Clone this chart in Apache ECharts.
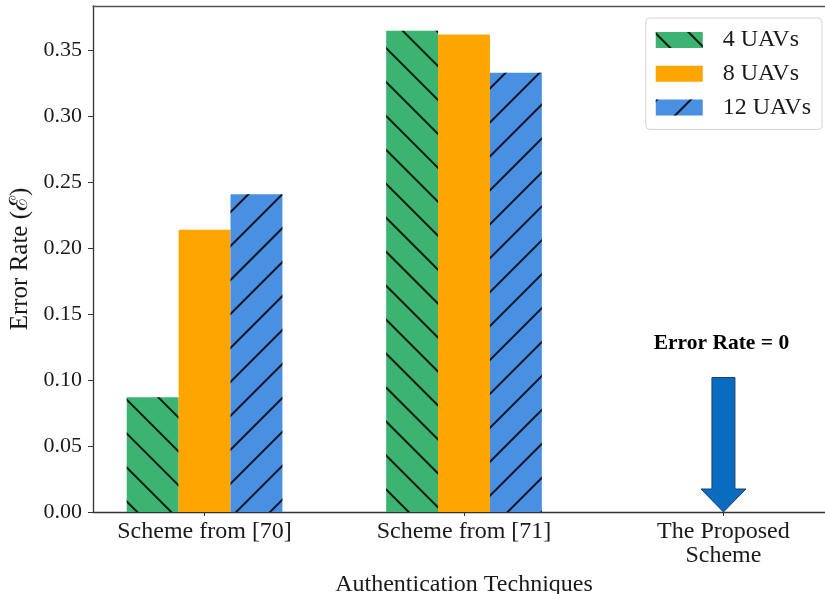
<!DOCTYPE html>
<html>
<head>
<meta charset="utf-8">
<script src="https://cdn.jsdelivr.net/npm/echarts@6/dist/echarts.min.js"></script>
<style>
  html, body { margin: 0; padding: 0; background: #fff; }
  #chart { width: 825px; height: 594px; }
</style>
</head>
<body>
<div id="chart"></div>
<script>
// Error rate of each authentication technique for different swarm sizes
const categories = ['Scheme from [70]', 'Scheme from [71]', 'The Proposed\nScheme'];
const categoryPos = [0, 1, 2];
const uav4 = [0.087, 0.365, 0];
const uav8 = [0.214, 0.362, 0];
const uav12 = [0.241, 0.333, 0];
const seriesNames = ['4 UAVs', '8 UAVs', '12 UAVs'];
const yTickValues = [0, 0.05, 0.10, 0.15, 0.20, 0.25, 0.30, 0.35];

// Annotation for the proposed scheme: arrow from arrowStart down to arrowEnd
const noteCategory = 2;
const arrowStart = 0.102;
const arrowEnd = 0;
const noteValue = 0.128;
const noteText = 'Error Rate = 0';

const FONT = '"Liberation Serif", "Times New Roman", serif';
const TEXT = '#1a1a1a';

function hatch(rotation) {
  return {
    symbol: 'rect',
    symbolSize: 1,
    color: 'rgba(0,0,0,0.85)',
    dashArrayX: [1, 0],
    dashArrayY: [1.4, 21.2],
    rotation: rotation
  };
}

function pairs(values) {
  return values.map((v, i) => [categoryPos[i], v]);
}

const chart = echarts.init(document.getElementById('chart'), null, { renderer: 'canvas' });

chart.setOption({
  backgroundColor: '#fff',
  animation: false,
  textStyle: { fontFamily: FONT, color: TEXT },
  grid: { left: 93, right: -10, top: 6, bottom: 82, containLabel: false, outerBoundsMode: 'none' },
  legend: {
    data: seriesNames,
    orient: 'vertical',
    right: 3,
    top: 18,
    icon: 'rect',
    itemWidth: 47,
    itemHeight: 16,
    itemGap: 9.7,
    padding: [10, 11, 10, 10],
    borderColor: '#d4d4d4',
    borderWidth: 1,
    borderRadius: 4,
    textStyle: { fontFamily: FONT, fontSize: 24, color: TEXT, padding: [0, 0, 0, 15] }
  },
  xAxis: [{
    type: 'value',
    min: -0.43,
    max: 2.43,
    name: 'Authentication Techniques',
    nameLocation: 'middle',
    nameGap: 53,
    nameTextStyle: { fontFamily: FONT, fontSize: 24, color: TEXT },
    axisLine: { show: true, onZero: false, lineStyle: { color: '#333', width: 1.3 } },
    axisTick: { show: true, customValues: categoryPos, length: 4, lineStyle: { color: '#333' } },
    axisLabel: {
      customValues: categoryPos,
      formatter: v => categories[Math.round(v)],
      fontFamily: FONT, fontSize: 24, color: TEXT, margin: 8, lineHeight: 24
    },
    splitLine: { show: false }
  }, {
    type: 'value',
    position: 'top',
    min: -0.43,
    max: 2.43,
    axisLine: { show: true, onZero: false, lineStyle: { color: '#555', width: 1.3 } },
    axisTick: { show: false },
    axisLabel: { show: false },
    splitLine: { show: false }
  }],
  yAxis: {
    type: 'value',
    min: 0,
    max: 0.3837,
    interval: 0.05,
    name: 'Error Rate (ℰ)',
    nameLocation: 'middle',
    nameGap: 60,
    nameRotate: 90,
    nameTextStyle: { fontFamily: FONT, fontSize: 25, color: TEXT },
    axisLine: { show: true, onZero: false, lineStyle: { color: '#333', width: 1.3 } },
    axisTick: { show: true, customValues: yTickValues, length: 5, lineStyle: { color: '#333' } },
    axisLabel: {
      customValues: yTickValues,
      formatter: v => v.toFixed(2),
      fontFamily: FONT, fontSize: 22, color: TEXT, margin: 11
    },
    splitLine: { show: false }
  },
  series: [
    {
      name: seriesNames[0], type: 'bar', data: pairs(uav4),
      barWidth: '20%', barGap: '0%',
      itemStyle: { color: '#3CB371', decal: hatch(Math.PI / 4) }
    },
    {
      name: seriesNames[1], type: 'bar', data: pairs(uav8),
      barWidth: '20%', barGap: '0%',
      itemStyle: { color: '#FFA500' }
    },
    {
      name: seriesNames[2], type: 'bar', data: pairs(uav12),
      barWidth: '20%', barGap: '0%',
      itemStyle: { color: '#4A90E2', decal: hatch(-Math.PI / 4) }
    },
    {
      type: 'custom',
      silent: true,
      data: [[noteCategory, arrowStart, arrowEnd, noteValue]],
      renderItem: (params, api) => {
        const x = api.value(0);
        const top = api.coord([x, api.value(1)]);
        const tip = api.coord([x, api.value(2)]);
        const label = api.coord([x, api.value(3)]);
        const shaftHalf = 11.5, headHalf = 22.5, headLen = 23;
        const neckY = tip[1] - headLen;
        return {
          type: 'group',
          children: [
            {
              type: 'polygon',
              shape: {
                points: [
                  [top[0] - shaftHalf, top[1]],
                  [top[0] + shaftHalf, top[1]],
                  [top[0] + shaftHalf, neckY],
                  [top[0] + headHalf, neckY],
                  [tip[0], tip[1]],
                  [top[0] - headHalf, neckY],
                  [top[0] - shaftHalf, neckY]
                ]
              },
              style: { fill: '#0A6CC0', stroke: '#1B3F6E', lineWidth: 1 }
            },
            {
              type: 'text',
              x: label[0] - 2,
              y: label[1],
              style: {
                text: noteText,
                fill: '#000',
                font: 'bold 21.5px ' + FONT,
                align: 'center',
                verticalAlign: 'middle'
              }
            }
          ]
        };
      }
    }
  ]
});
</script>
</body>
</html>
